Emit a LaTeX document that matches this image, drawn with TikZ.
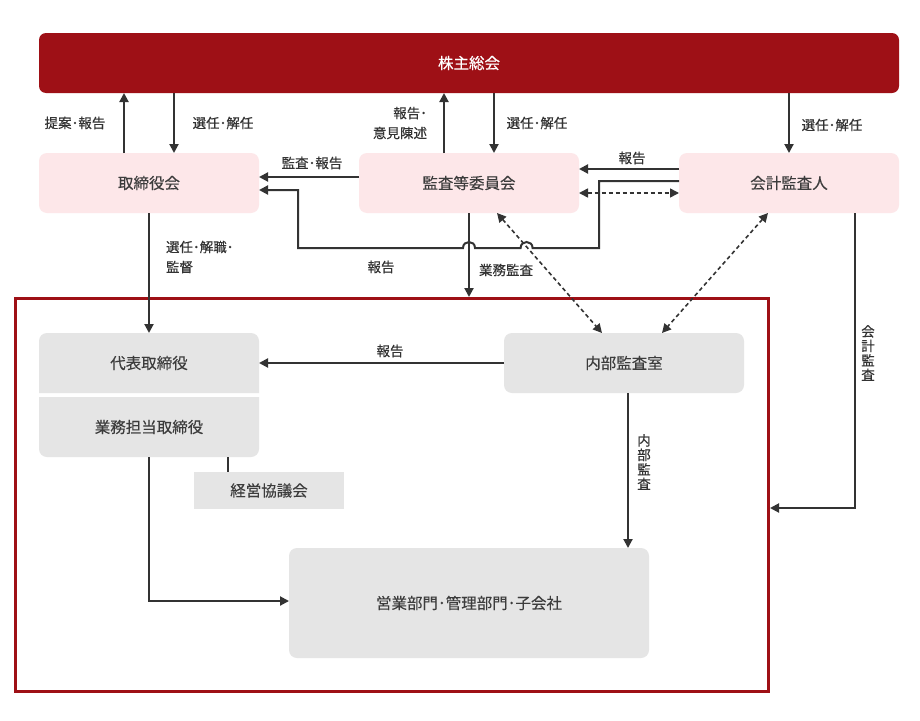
\documentclass[tikz,border=0pt]{standalone}
\usepackage{fontspec}
\setmainfont{Noto Sans CJK JP}
\newfontfamily\labfam{Noto Sans CJK JP}[FakeBold=0.35]
\newfontfamily\boxfam{Noto Sans CJK JP}[FakeBold=0.15]
\newfontfamily\gmfam{Noto Sans CJK JP}[FakeBold=0.6]
\usetikzlibrary{arrows.meta,calc,backgrounds}
\definecolor{dred}{HTML}{9E1016}
\definecolor{pinkfill}{HTML}{FDE7E9}
\definecolor{grayfill}{HTML}{E5E5E5}
\definecolor{linec}{HTML}{333333}
\definecolor{txtc}{HTML}{3C3C3C}
\newcommand\boxfont{\boxfam\fontsize{15.5}{18}\selectfont}
\newcommand\labfont{\labfam\fontsize{13.5}{20}\selectfont}
\newcommand\vlabfont{\labfam\fontsize{13.5}{14.5}\selectfont}
\tikzset{
  box/.style={inner sep=0pt, outer sep=0pt, minimum height=60pt, text=txtc, font=\boxfont},
  pinkbox/.style={box, fill=pinkfill, rounded corners=8pt, minimum width=220pt},
  graybox/.style={box, fill=grayfill, rounded corners=8pt},
  lab/.style={font=\labfont, text=linec, inner sep=0pt, outer sep=0pt},
  vlab/.style={font=\vlabfont, text=linec, inner sep=0pt, align=center},
  tipp/.tip={Triangle[length=9pt,width=9pt]},
  arr/.style={draw=linec, line width=2pt, -tipp},
  darr/.style={draw=linec, line width=1.6pt, dash pattern=on 4pt off 3pt, tipp-tipp},
  ln/.style={draw=linec, line width=2pt},
}
\begin{document}
\begin{tikzpicture}[x=1pt,y=-1pt]
\useasboundingbox (0,0) rectangle (920,720);

% nodes
\node[box, fill=dred, text=white, rounded corners=7pt, minimum width=860pt, font=\gmfam\fontsize{15.5}{18}\selectfont] (gm) at (469,63) {株主総会};
\node[pinkbox] (tb) at (149,183) {取締役会};
\node[pinkbox] (ac) at (469,183) {監査等委員会};
\node[pinkbox] (ea) at (789,183) {会計監査人};

\node[draw=dred, line width=3pt, minimum width=753pt, minimum height=393pt, inner sep=0pt] (fr) at (392,495) {};

\node[box, minimum width=220pt] (rep) at (149,363) {代表取締役};
\node[box, minimum width=220pt] (exe) at (149,427) {業務担当取締役};
\begin{scope}[on background layer]
  \fill[white] (0,0) rectangle (920,720);
  \fill[grayfill] (rep.south west) [rounded corners=8pt] -- (rep.north west) -- (rep.north east) [sharp corners] -- (rep.south east) -- cycle;
  \fill[grayfill] (exe.north east) [rounded corners=8pt] -- (exe.south east) -- (exe.south west) [sharp corners] -- (exe.north west) -- cycle;
\end{scope}
\node[box, fill=grayfill, minimum width=150pt, minimum height=37pt] (mc) at (269,490.5) {経営協議会};
\node[graybox, minimum width=240pt] (ia) at (624,363) {内部監査室};
\node[graybox, minimum width=360pt, minimum height=110pt] (ops) at (469,603) {営業部門･管理部門･子会社};

% top arrows
\draw[arr] ([xshift=-25pt]tb.north) -- ([xshift=-25pt]tb.north |- gm.south);
\draw[arr] ([xshift=25pt]tb.north |- gm.south) -- ([xshift=25pt]tb.north);
\draw[arr] ([xshift=-25pt]ac.north) -- ([xshift=-25pt]ac.north |- gm.south);
\draw[arr] ([xshift=25pt]ac.north |- gm.south) -- ([xshift=25pt]ac.north);
\draw[arr] (ea.north |- gm.south) -- (ea.north);

\node[lab] (l1) at (75,123) {提案･報告};
\node[lab] (l2) at (223,123) {選任･解任};
\node[lab, align=right, anchor=east] (l3) at (427,123) {報告･\\意見陳述};
\node[lab] (l4) at (537,123) {選任･解任};
\node[lab] (l5) at (832,125) {選任･解任};

% horizontal between boxes
\draw[arr] ([yshift=6pt]ac.west) -- ([yshift=6pt]tb.east);
\node[lab] (l6) at (312,163) {監査･報告};
\draw[arr] ([yshift=14pt]ea.west) -- ([yshift=14pt]ac.east);
\node[lab] (l7) at (632,158) {報告};
\draw[darr] ([yshift=-10pt]ac.east) -- ([yshift=-10pt]ea.west);

% long report path with hops
\coordinate (p1) at (599,181);
\coordinate (p2) at (599,248);
\coordinate (p3) at (298,248);
\coordinate (p4) at (298,190);
\draw[arr] ([yshift=2pt]ea.west) -- (p1) -- (p2) -- (532.6,248)
  .. controls (532.6,240) and (520.6,240) .. (520.6,248) -- (475,248)
  .. controls (475,240) and (463,240) .. (463,248) -- (p3) -- (p4) -- ([yshift=-7pt]tb.east);
\node[lab] (l8) at (381,267) {報告};

% 業務監査
\draw[arr] (ac.south) -- (ac.south |- fr.north);
\node[lab] (l9) at (506,270) {業務監査};

% dashed diagonals
\draw[darr] ([xshift=28pt]ac.south) -- ([xshift=-22pt]ia.north);
\draw[darr] ([xshift=-21pt]ea.south) -- ([xshift=38pt]ia.north);

% 選任・解職・監督
\draw[arr] (tb.south) -- (rep.north);
\node[lab, align=left, anchor=west] (l10) at (166,257) {選任･解職･\\監督};

% 報告 ia -> rep
\draw[arr] (ia.west) -- (rep.east);
\node[lab] (l11) at (390,351) {報告};

% exe to mc
\draw[ln] ([xshift=79pt]exe.south) -- ([xshift=79pt]exe.south |- mc.north);
% exe to ops
\coordinate (q1) at (149,601);
\draw[arr] (exe.south) -- (q1) -- (q1 -| ops.west);

% 内部監査
\draw[arr] ([xshift=4pt]ia.south) -- ([xshift=4pt]ia.south |- ops.north);
\node[vlab] (l12) at (644,462) {内\\部\\監\\査};

% 会計監査
\coordinate (r1) at (855,508);
\draw[arr] ([xshift=66pt]ea.south) -- (r1) -- (r1 -| fr.east);
\node[vlab] (l13) at (868,353) {会\\計\\監\\査};
\end{tikzpicture}
\end{document}
